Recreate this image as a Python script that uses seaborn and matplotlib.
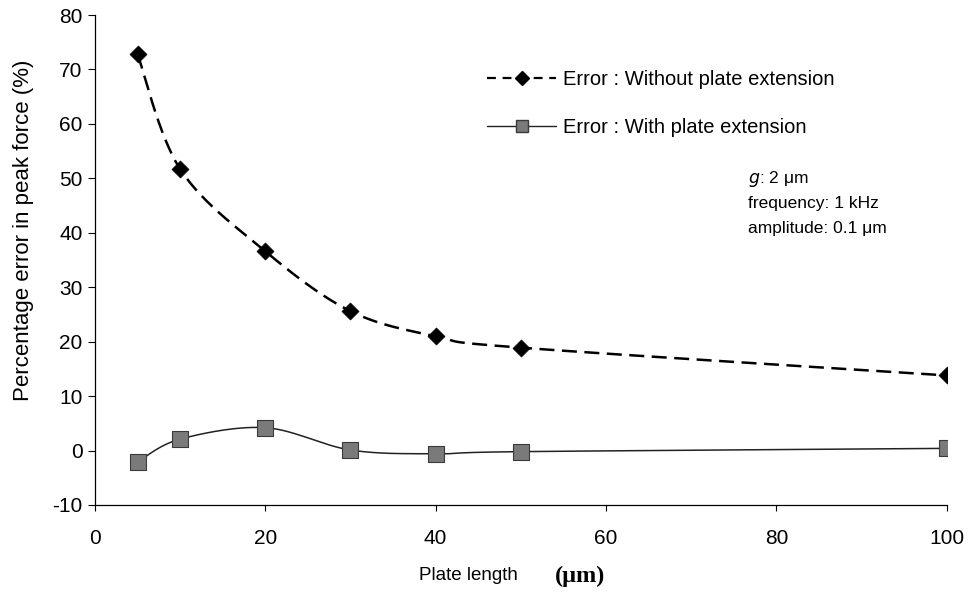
import numpy as np
import pandas as pd
import matplotlib
matplotlib.use("Agg")
import matplotlib.pyplot as plt
import seaborn as sns
from matplotlib.lines import Line2D

# ---- data ----
plate_length = [5, 10, 20, 30, 40, 50, 100]
err_without = [72.8, 51.7, 36.6, 25.6, 21.0, 18.9, 13.8]
err_with = [-2.1, 2.1, 4.2, 0.1, -0.6, -0.2, 0.4]
label_without = "Error : Without plate extension"
label_with = "Error : With plate extension"
y_ticks = [-10, 0, 10, 20, 30, 40, 50, 60, 70, 80]
x_ticks = [0, 20, 40, 60, 80, 100]

sns.set_theme(style="ticks")
plt.rcParams['font.family'] = ['Liberation Sans', 'DejaVu Sans']
plt.rcParams['axes.unicode_minus'] = False
plt.rcParams['text.color'] = 'black'
plt.rcParams['axes.labelcolor'] = 'black'
plt.rcParams['xtick.color'] = 'black'
plt.rcParams['ytick.color'] = 'black'


def smooth(x, y, n=30):
    """Excel-like smoothed curve (cubic Bezier through points)."""
    x = np.asarray(x, float)
    y = np.asarray(y, float)
    pts = np.column_stack([x, y])
    out = []
    t = np.linspace(0, 1, n)
    for i in range(len(pts) - 1):
        p0 = pts[i - 1] if i > 0 else pts[i]
        p1 = pts[i]
        p2 = pts[i + 1]
        p3 = pts[i + 2] if i + 2 < len(pts) else pts[i + 1]
        c1 = p1 + (p2 - p0) / 6.0
        c2 = p2 - (p3 - p1) / 6.0
        seg = ((1 - t) ** 3)[:, None] * p1 + (3 * (1 - t) ** 2 * t)[:, None] * c1 \
            + (3 * (1 - t) * t ** 2)[:, None] * c2 + (t ** 3)[:, None] * p2
        out.append(seg if i == 0 else seg[1:])
    s = np.vstack(out)
    return s[:, 0], s[:, 1]


fig, ax = plt.subplots(figsize=(9.68, 5.96), dpi=100)
fig.subplots_adjust(left=0.0981, right=0.978, bottom=0.1527, top=0.9748)

sx1, sy1 = smooth(plate_length, err_without)
sx2, sy2 = smooth(plate_length, err_with)
df1 = pd.DataFrame({"x": sx1, "y": sy1})
df2 = pd.DataFrame({"x": sx2, "y": sy2})

sns.lineplot(data=df1, x="x", y="y", ax=ax, color="black", lw=1.8,
             linestyle=(0, (6, 3)), sort=False, estimator=None)
sns.lineplot(data=df2, x="x", y="y", ax=ax, color="#222222", lw=1.1,
             sort=False, estimator=None)

pts1 = pd.DataFrame({"x": plate_length, "y": err_without})
pts2 = pd.DataFrame({"x": plate_length, "y": err_with})
sns.scatterplot(data=pts1, x="x", y="y", ax=ax, marker="D", s=75,
                color="black", edgecolor="black", linewidth=0.5, zorder=5)
sns.scatterplot(data=pts2, x="x", y="y", ax=ax, marker="s", s=130,
                color="#7a7a7a", edgecolor="#3a3a3a", linewidth=0.8, zorder=5)

ax.set_xlim(0, 100)
ax.set_ylim(-10, 80)
ax.set_xticks(x_ticks)
ax.set_yticks(y_ticks)
ax.tick_params(axis="both", labelsize=15, length=5, width=0.8, direction="out",
               colors="black")
ax.tick_params(axis="y", pad=4)
ax.tick_params(axis="x", pad=13, length=4)
for side in ["top", "right"]:
    ax.spines[side].set_visible(False)
for side in ["left", "bottom"]:
    ax.spines[side].set_color("black")
    ax.spines[side].set_linewidth(0.9)

ax.set_ylabel("Percentage error in peak force (%)", fontsize=16)
ax.yaxis.set_label_coords(-0.071, 0.56)
ax.set_xlabel("")
ax.text(0.439, -0.143, "Plate length", transform=ax.transAxes, fontsize=13.5,
        ha="center", va="center")
ax.text(0.569, -0.145, "(μm)", transform=ax.transAxes, fontsize=17.5,
        ha="center", va="center", family="Liberation Serif", fontweight="bold")

handles = [
    Line2D([], [], color="black", lw=1.6, linestyle=(0, (4, 3)), marker="D",
           markersize=7, markerfacecolor="black"),
    Line2D([], [], color="#222222", lw=1.0, marker="s", markersize=9,
           markerfacecolor="#7a7a7a", markeredgecolor="#3a3a3a"),
]
leg = ax.legend(handles, [label_without, label_with], loc="upper left",
                bbox_to_anchor=(0.449, 0.909), frameon=False, fontsize=14.5,
                handlelength=3.4, labelspacing=1.45, borderpad=0,
                handletextpad=0.35)

ax.text(0.767, 0.665, r"$g$: 2 μm", transform=ax.transAxes, fontsize=12.5,
        ha="left", va="center")
ax.text(0.767, 0.615, "frequency: 1 kHz", transform=ax.transAxes, fontsize=12.5,
        ha="left", va="center")
ax.text(0.767, 0.565, "amplitude: 0.1 μm", transform=ax.transAxes, fontsize=12.5,
        ha="left", va="center")

fig.savefig("out.png", dpi=100)
